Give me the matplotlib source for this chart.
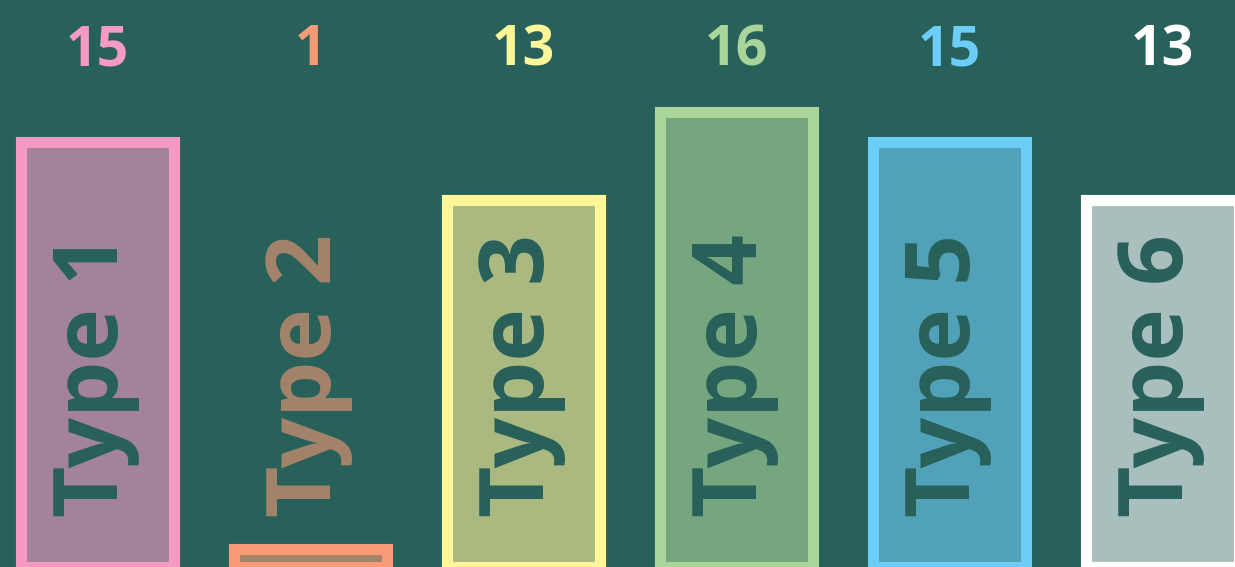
import matplotlib.pyplot as plt
from matplotlib.colors import to_rgb

plt.rcParams['font.family'] = ['Open Sans', 'DejaVu Sans']

# data
categories = ['Type 1', 'Type 2', 'Type 3', 'Type 4', 'Type 5', 'Type 6']
values = [15, 1, 13, 16, 15, 13]
colors = ['#F49AC3', '#F79A76', '#FFF599', '#A9D59A', '#6CCDF7', '#FFFFFF']

BG = '#28605A'
BASE = 0.364   # where the bars start (bottom edge of the picture)
ALPHA = 0.6


def blend(c, alpha=ALPHA, bg=BG):
    c1 = to_rgb(c)
    c0 = to_rgb(bg)
    return tuple(alpha * a + (1 - alpha) * b for a, b in zip(c1, c0))


fig = plt.figure(figsize=(12.35, 5.67), dpi=100)
fig.patch.set_facecolor(BG)
ax = fig.add_axes([0, 0, 1, 1])
ax.set_facecolor(BG)
ax.axis('off')

x = range(len(categories))
heights = [v - BASE for v in values]
fills = [blend(c) for c in colors]
ax.bar(x, heights, bottom=BASE, width=0.715, color=fills,
       edgecolor=colors, linewidth=8)

ax.set_xlim(-0.458, 5.34)
ax.set_ylim(BASE, 19.87)

lab_tr = ax.get_xaxis_transform()
for i, (cat, v) in enumerate(zip(categories, values)):
    ax.text(i, 0.885, str(v), transform=lab_tr, ha='center', va='baseline',
            fontsize=40, fontweight='bold', color=colors[i])
    # short bars get the label in the fill colour so it stays readable
    tcol = fills[i] if v < 3 else BG
    ax.text(i - 0.012, 0.088, cat, transform=lab_tr, rotation=90, ha='center',
            va='bottom', fontsize=64, fontweight='bold', color=tcol)

fig.savefig('out.png', dpi=100, facecolor=BG)
